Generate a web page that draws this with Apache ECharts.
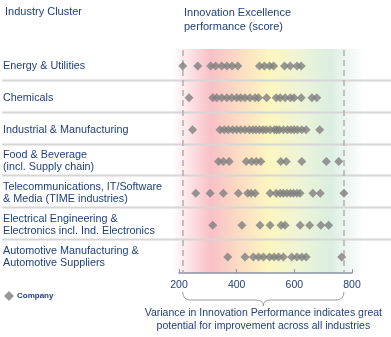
<!DOCTYPE html>
<html><head><meta charset="utf-8">
<script src="https://cdn.jsdelivr.net/npm/echarts@6/dist/echarts.min.js"></script>
<style>html,body{margin:0;padding:0;background:#fff}#c{width:391px;height:337px}</style>
</head><body><div id="c"></div>
<script>
const categories = ['Energy & Utilities','Chemicals','Industrial & Manufacturing','Food & Beverage\n(incl. Supply chain)','Telecommunications, IT/Software\n& Media (TIME industries)','Electrical Engineering &\nElectronics incl. Ind. Electronics','Automotive Manufacturing &\nAutomotive Suppliers'];
const energy = [213,265,310,327,348,366,384,404,479,496,514,528,566,586,609,624];
const chemicals = [235,317,331,348,366,383,400,414,429,446,464,476,504,537,551,568,586,599,624,661,678];
const industrial = [247,342,357,371,386,400,414,429,444,456,467,479,491,502,516,531,539,548,562,576,588,599,611,626,641,688];
const food = [337,354,374,433,452,468,484,553,572,626,711,754];
const telecom = [258,308,354,406,438,450,464,516,537,551,562,574,586,597,609,620,664,690,772];
const electrical = [317,418,481,516,554,568,620,653,692,719];
const automotive = [369,429,458,476,493,514,530,545,562,591,609,626,641,764];
const rows = [energy, chemicals, industrial, food, telecom, electrical, automotive];
const xTicks = [200, 400, 600, 800];

const navy = '#203f7a';
const font = 'Liberation Sans, Arial, sans-serif';
const data = [];
rows.forEach((r, i) => r.forEach(v => data.push([v, categories[i]])));
const all = rows.flat();
const minV = Math.min(...all), maxV = Math.max(...all);

const chart = echarts.init(document.getElementById('c'), null, {renderer: 'canvas'});
chart.setOption({
  animation: false,
  textStyle: {fontFamily: font},
  title: [
    {text: 'Industry Cluster', left: 0, top: 1, textStyle: {fontSize: 11, fontWeight: 'normal', color: navy, fontFamily: font}},
    {text: 'Innovation Excellence\nperformance (score)', left: 179, top: 1, textStyle: {fontSize: 11, fontWeight: 'normal', color: navy, lineHeight: 14, fontFamily: font}}
  ],
  legend: {data: ['Company'], left: -1, top: 286, icon: 'diamond', itemWidth: 10, itemHeight: 10, itemGap: 3,
    textStyle: {fontSize: 8, fontWeight: 'bold', color: navy, fontFamily: font, padding: [0, 0, 0, -2]}},
  grid: {left: 179, right: 39, top: 50, bottom: 64},
  xAxis: {type: 'value', min: xTicks[0], max: xTicks[xTicks.length-1], interval: 200,
    axisLine: {show: true, lineStyle: {color: '#8a93a8', width: 1.5}},
    axisTick: {show: true, inside: true, length: 4, lineStyle: {color: '#8a93a8'}},
    axisLabel: {color: navy, fontSize: 10.5, margin: 7, fontFamily: font},
    splitLine: {show: false}},
  yAxis: {type: 'category', data: categories, inverse: true,
    axisLine: {show: false}, axisTick: {show: false}, splitLine: {show: false},
    axisLabel: {align: 'left', margin: 176, color: navy, fontSize: 10.8, lineHeight: 12, fontFamily: font}},
  series: [{
    name: 'Company', type: 'scatter', symbol: 'diamond', symbolSize: [9, 9],
    itemStyle: {color: '#7f7f7f'}, data: data, z: 5,
    markLine: {silent: true, symbol: 'none', label: {show: false},
      lineStyle: {color: '#b0b0b0', type: [6, 4], width: 1.5},
      data: [{xAxis: minV}, {xAxis: maxV}]}
  }]
});

const gTop = 49, gBot = 273;
const xl = chart.convertToPixel({xAxisIndex: 0}, 176);
const xr = chart.convertToPixel({xAxisIndex: 0}, 846);
const graphics = [];
graphics.push({type: 'rect', z: -10, silent: true,
  shape: {x: xl, y: gTop, width: xr - xl, height: gBot - gTop},
  style: {fill: new echarts.graphic.LinearGradient(0, 0, 1, 0, [
    {offset: 0, color: 'rgba(255,255,255,1)'},
    {offset: 0.2, color: '#f8c0c7'},
    {offset: 0.35, color: '#fcdcc4'},
    {offset: 0.5, color: '#fcf6c0'},
    {offset: 0.66, color: '#eef4d6'},
    {offset: 0.82, color: '#dbeee1'},
    {offset: 0.87, color: '#e8f3ec'},
    {offset: 1, color: 'rgba(255,255,255,1)'}
  ])}});
for (let i = 0; i < categories.length - 1; i++) {
  const y1 = chart.convertToPixel({yAxisIndex: 0}, categories[i]);
  const y2 = chart.convertToPixel({yAxisIndex: 0}, categories[i+1]);
  const y = Math.round((y1 + y2) / 2) - 1.5;
  graphics.push({type: 'line', z: -5, silent: true, shape: {x1: 2, y1: y, x2: 391, y2: y},
    style: {stroke: '#d6d6d6', lineWidth: 2}});
}
// brace
const bl = chart.convertToPixel({xAxisIndex: 0}, minV);
const br = chart.convertToPixel({xAxisIndex: 0}, maxV);
const bc = (bl + br) / 2;
const y0 = 292, y1 = 300, y2 = 306;
const bs = {fill: null, stroke: '#9a9a9a', lineWidth: 1};
const brace = [
  {type: 'bezierCurve', shape: {x1: bl, y1: y0, x2: bl + 8, y2: y1, cpx1: bl, cpy1: y1}},
  {type: 'line', shape: {x1: bl + 8, y1: y1, x2: bc - 7, y2: y1}},
  {type: 'bezierCurve', shape: {x1: bc - 7, y1: y1, x2: bc, y2: y2, cpx1: bc, cpy1: y1}},
  {type: 'bezierCurve', shape: {x1: bc, y1: y2, x2: bc + 7, y2: y1, cpx1: bc, cpy1: y1}},
  {type: 'line', shape: {x1: bc + 7, y1: y1, x2: br - 8, y2: y1}},
  {type: 'bezierCurve', shape: {x1: br - 8, y1: y1, x2: br, y2: y0, cpx1: br, cpy1: y1}}
];
brace.forEach(b => { b.style = bs; b.silent = true; graphics.push(b); });
graphics.push({type: 'text', x: bc, y: 307, silent: true, style: {text: 'Variance in Innovation Performance indicates great\npotential for improvement across all industries',
  textAlign: 'center', fill: navy, font: '10.5px ' + font, lineHeight: 13}});
chart.setOption({graphic: graphics});
</script></body></html>
